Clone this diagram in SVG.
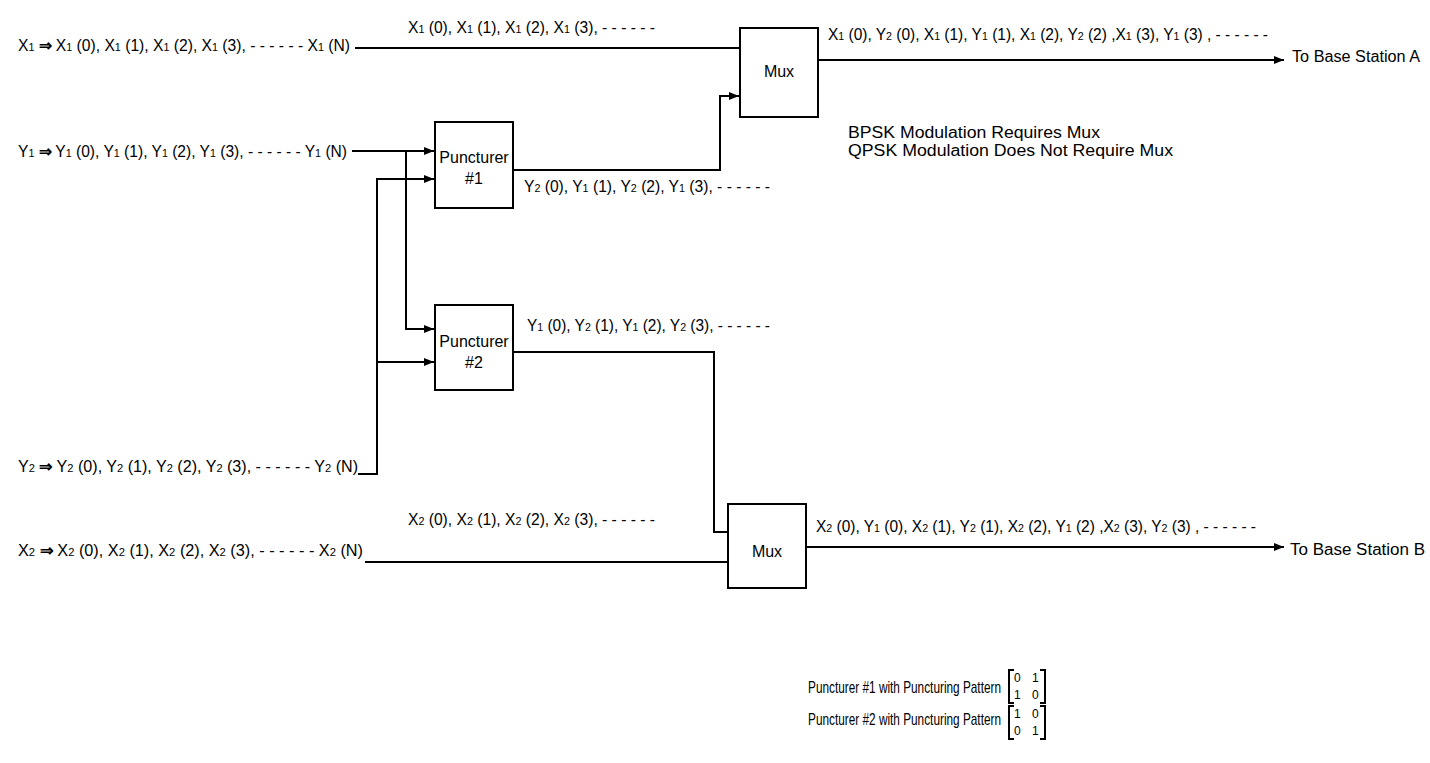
<svg xmlns="http://www.w3.org/2000/svg" width="1430" height="763" viewBox="0 0 1430 763">
<defs>
<style>
text{font-family:"Liberation Sans",Arial,sans-serif;font-size:16px;fill:#000}
.s{font-size:11px}
.b{stroke:#000;stroke-width:2;fill:#fff}
.w{stroke:#000;stroke-width:2;fill:none}
.br{stroke:#000;stroke-width:2;fill:none}
.d{font-size:12px}
.p{font-size:17px}
</style>
<marker id="ah" viewBox="0 0 10 10" refX="10" refY="5" markerWidth="10" markerHeight="10" markerUnits="userSpaceOnUse" orient="auto">
<path d="M0,1 L10,5 L0,9 Z" fill="#000"/>
</marker>
</defs>
<rect width="1430" height="763" fill="#fff"/>

<g id="connectors">
<path class="w" d="M355,48 H740"/>
<path class="w" d="M352,151 H434" marker-end="url(#ah)"/>
<path class="w" d="M406,151 V329 H434" marker-end="url(#ah)"/>
<path class="w" d="M358,474 H377 V179 H434" marker-end="url(#ah)"/>
<path class="w" d="M377,362 H434" marker-end="url(#ah)"/>
<path class="w" d="M513,170 H720 V96 H739" marker-end="url(#ah)"/>
<path class="w" d="M513,352 H714 V532 H728"/>
<path class="w" d="M365,562 H728"/>
<path class="w" d="M818,60 H1284" marker-end="url(#ah)"/>
<path class="w" d="M806,547 H1284" marker-end="url(#ah)"/>
</g>

<g id="mux-a">
<rect class="b" x="740" y="28" width="78" height="89"/>
<text x="779" y="77" text-anchor="middle">Mux</text>
</g>
<g id="mux-b">
<rect class="b" x="728" y="504" width="78" height="84"/>
<text x="767" y="557" text-anchor="middle">Mux</text>
</g>
<g id="puncturer-1">
<rect class="b" x="435" y="122" width="78" height="86"/>
<text x="474" y="163" text-anchor="middle">Puncturer</text>
<text x="474" y="184" text-anchor="middle">#1</text>
</g>
<g id="puncturer-2">
<rect class="b" x="435" y="305" width="78" height="85"/>
<text x="474" y="347" text-anchor="middle">Puncturer</text>
<text x="474" y="368" text-anchor="middle">#2</text>
</g>

<g id="input-x1"><text x="18" y="51" textLength="332" lengthAdjust="spacingAndGlyphs">X<tspan class="s">1</tspan> <tspan font-weight="bold">⇒</tspan> X<tspan class="s">1</tspan> (0), X<tspan class="s">1</tspan> (1), X<tspan class="s">1</tspan> (2), X<tspan class="s">1</tspan> (3), - - - - - - X<tspan class="s">1</tspan> (N)</text></g>
<g id="input-y1"><text x="18" y="157" textLength="329" lengthAdjust="spacingAndGlyphs">Y<tspan class="s">1</tspan> <tspan font-weight="bold">⇒</tspan> Y<tspan class="s">1</tspan> (0), Y<tspan class="s">1</tspan> (1), Y<tspan class="s">1</tspan> (2), Y<tspan class="s">1</tspan> (3), - - - - - - Y<tspan class="s">1</tspan> (N)</text></g>
<g id="input-y2"><text x="18" y="472" textLength="340" lengthAdjust="spacingAndGlyphs">Y<tspan class="s">2</tspan> <tspan font-weight="bold">⇒</tspan> Y<tspan class="s">2</tspan> (0), Y<tspan class="s">2</tspan> (1), Y<tspan class="s">2</tspan> (2), Y<tspan class="s">2</tspan> (3), - - - - - - Y<tspan class="s">2</tspan> (N)</text></g>
<g id="input-x2"><text x="18" y="556" textLength="345" lengthAdjust="spacingAndGlyphs">X<tspan class="s">2</tspan> <tspan font-weight="bold">⇒</tspan> X<tspan class="s">2</tspan> (0), X<tspan class="s">2</tspan> (1), X<tspan class="s">2</tspan> (2), X<tspan class="s">2</tspan> (3), - - - - - - X<tspan class="s">2</tspan> (N)</text></g>

<g id="labels">
<text x="408" y="33" textLength="247" lengthAdjust="spacingAndGlyphs">X<tspan class="s">1</tspan> (0), X<tspan class="s">1</tspan> (1), X<tspan class="s">1</tspan> (2), X<tspan class="s">1</tspan> (3), - - - - - -</text>
<text x="828" y="40" textLength="440" lengthAdjust="spacingAndGlyphs">X<tspan class="s">1</tspan> (0), Y<tspan class="s">2</tspan> (0), X<tspan class="s">1</tspan> (1), Y<tspan class="s">1</tspan> (1), X<tspan class="s">1</tspan> (2), Y<tspan class="s">2</tspan> (2) ,X<tspan class="s">1</tspan> (3), Y<tspan class="s">1</tspan> (3)  , - - - - - -</text>
<text x="1292" y="62" textLength="128" lengthAdjust="spacingAndGlyphs">To Base Station A</text>
<text x="848" y="138" textLength="252" lengthAdjust="spacingAndGlyphs">BPSK Modulation Requires Mux</text>
<text x="848" y="156" textLength="325" lengthAdjust="spacingAndGlyphs">QPSK Modulation Does Not Require Mux</text>
<text x="524" y="192" textLength="246" lengthAdjust="spacingAndGlyphs">Y<tspan class="s">2</tspan> (0), Y<tspan class="s">1</tspan> (1), Y<tspan class="s">2</tspan> (2), Y<tspan class="s">1</tspan> (3), - - - - - -</text>
<text x="527" y="331" textLength="243" lengthAdjust="spacingAndGlyphs">Y<tspan class="s">1</tspan> (0), Y<tspan class="s">2</tspan> (1), Y<tspan class="s">1</tspan> (2), Y<tspan class="s">2</tspan> (3), - - - - - -</text>
<text x="408" y="525" textLength="247" lengthAdjust="spacingAndGlyphs">X<tspan class="s">2</tspan> (0), X<tspan class="s">2</tspan> (1), X<tspan class="s">2</tspan> (2), X<tspan class="s">2</tspan> (3), - - - - - -</text>
<text x="816" y="532" textLength="440" lengthAdjust="spacingAndGlyphs">X<tspan class="s">2</tspan> (0), Y<tspan class="s">1</tspan> (0), X<tspan class="s">2</tspan> (1), Y<tspan class="s">2</tspan> (1), X<tspan class="s">2</tspan> (2), Y<tspan class="s">1</tspan> (2) ,X<tspan class="s">2</tspan> (3), Y<tspan class="s">2</tspan> (3)  , - - - - - -</text>
<text x="1290" y="555" textLength="135" lengthAdjust="spacingAndGlyphs">To Base Station B</text>
</g>

<g id="patterns">
<text class="p" x="808" y="693" textLength="193" lengthAdjust="spacingAndGlyphs">Puncturer #1 with Puncturing Pattern</text>
<path class="br" d="M1014,670 H1009 V703 H1014"/>
<path class="br" d="M1040,670 H1045 V703 H1040"/>
<text class="d"><tspan x="1014" y="682">0</tspan><tspan x="1032" y="682">1</tspan><tspan x="1014" y="699">1</tspan><tspan x="1032" y="699">0</tspan></text>
<text class="p" x="808" y="725" textLength="193" lengthAdjust="spacingAndGlyphs">Puncturer #2 with Puncturing Pattern</text>
<path class="br" d="M1014,706 H1009 V739 H1014"/>
<path class="br" d="M1040,706 H1045 V739 H1040"/>
<text class="d"><tspan x="1014" y="718">1</tspan><tspan x="1032" y="718">0</tspan><tspan x="1014" y="735">0</tspan><tspan x="1032" y="735">1</tspan></text>
</g>
</svg>
